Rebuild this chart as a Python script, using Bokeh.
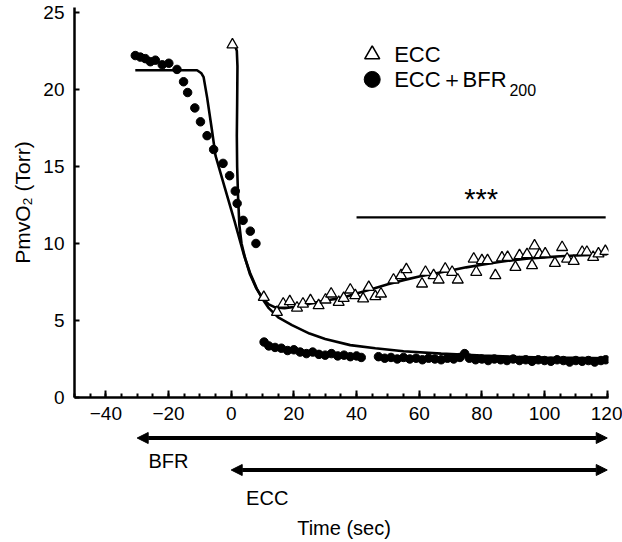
from bokeh.plotting import figure
from bokeh.layouts import column
from bokeh.models import Range1d, FixedTicker, Arrow, NormalHead
from bokeh.embed import file_html
from bokeh.resources import INLINE
from bokeh.core.properties import value

FONT = "Liberation Sans"

# ---------------- data ----------------
# ECC + BFR200 (filled circles), time in s, PmvO2 in Torr
bfr_pre_t = [-30.6, -29.0, -27.4, -25.8, -24.2, -22.0, -19.9, -17.3, -15.2, -13.9, -11.6,
             -9.8, -7.7, -5.6, -2.6, -0.5, 1.3, 1.9, 3.8, 6.1, 7.9]
bfr_pre_v = [22.2, 22.1, 22.0, 21.8, 21.9, 21.6, 21.7, 21.3, 20.5, 19.8, 18.8,
             17.9, 17.0, 16.1, 15.2, 14.4, 13.4, 12.6, 11.5, 10.8, 10.0]
bfr_ex_t = [10.5, 12, 14, 16, 18, 20, 22, 24, 26, 28, 30, 32, 34, 36, 38, 40, 41.5,
            47, 49, 51, 53, 55, 57, 59, 61, 63, 65, 67, 69, 71, 73, 74.5, 76, 78, 80,
            82, 84, 86, 88, 90, 92, 94, 96, 98, 100, 102, 104, 106, 108, 110, 112,
            114, 116, 118, 119.5]
bfr_ex_v = [3.6, 3.35, 3.25, 3.2, 3.05, 3.1, 2.95, 2.85, 2.95, 2.8, 2.75, 2.85, 2.7,
            2.75, 2.65, 2.7, 2.6, 2.65, 2.55, 2.6, 2.5, 2.6, 2.5, 2.55, 2.45, 2.55, 2.5,
            2.45, 2.55, 2.5, 2.6, 2.85, 2.55, 2.45, 2.5, 2.4, 2.5, 2.45, 2.4, 2.5, 2.4,
            2.45, 2.35, 2.45, 2.4, 2.35, 2.45, 2.4, 2.3, 2.4, 2.35, 2.4, 2.3, 2.4, 2.45]

# ECC (open triangles)
ecc_t = [0.4, 10.4, 14.6, 16.6, 18.7, 21.0, 22.9, 25.3, 27.9, 30.1, 31.9, 34.3, 35.9,
         38.0, 39.6, 42.1, 43.9, 46.0, 47.8, 51.8, 54.2, 55.9, 60.9, 62.0, 64.6, 66.2,
         68.3, 70.5, 72.3, 77.4, 78.2, 80.0, 81.8, 84.3, 86.4, 88.2, 90.7, 92.0, 94.4,
         96.0, 96.8, 98.4, 100.2, 103.3, 105.6, 107.2, 109.3, 112.0, 113.5, 115.5,
         117.2, 119.4]
ecc_v = [22.9, 6.51, 5.54, 6.08, 6.23, 5.82, 6.08, 6.30, 5.97, 6.34, 6.73, 6.19, 6.45,
         6.99, 6.62, 6.41, 7.16, 6.56, 6.73, 7.64, 7.92, 8.31, 7.38, 8.14, 7.92, 7.64,
         8.35, 8.14, 7.64, 9.0, 8.14, 8.9, 8.9, 7.92, 9.07, 9.11, 8.46, 9.22, 9.29,
         8.57, 9.85, 9.29, 9.33, 8.72, 9.75, 9.0, 8.85, 9.44, 9.44, 9.11, 9.33, 9.5]

# fitted curves
ecc_fit_t = [0.4, 1.2, 1.8, 2.0, 1.9, 1.8, 1.9, 2.2, 2.6, 3.3, 4.5, 6.0, 8.0, 10.0, 12.0,
             14.0, 17.0, 20.0, 25.0, 30.0, 35.0, 40.0, 45.0, 50.0, 55.0, 60.0, 65.0, 70.0,
             75.0, 80.0, 85.0, 90.0, 95.0, 100.0, 105.0, 110.0, 115.0, 120.0]
ecc_fit_v = [22.9, 22.85, 22.5, 21.5, 19.0, 17.0, 15.0, 13.0, 11.2, 10.0, 9.0, 8.0, 7.1,
             6.45, 6.05, 5.85, 5.8, 5.88, 6.08, 6.3, 6.45, 6.75, 7.05, 7.35, 7.62, 7.85,
             8.05, 8.25, 8.45, 8.62, 8.78, 8.92, 9.03, 9.1, 9.17, 9.22, 9.26, 9.3]
bfr_fit_t = [-30.6, -25.0, -20.0, -15.0, -10.9, -9.5, -8.8, -7.7, -6.1, -5.0, -2.0, 1.0,
             4.0, 6.0, 8.3, 10.0, 12.0, 15.0, 19.4, 25.0, 30.0, 38.0, 46.0, 55.0, 67.0,
             80.0, 90.0, 100.0, 110.0, 120.0]
bfr_fit_v = [21.25, 21.25, 21.25, 21.25, 21.25, 21.05, 20.8, 19.5, 17.3, 15.7, 13.6, 11.5,
             9.3, 8.1, 7.0, 6.4, 5.8, 5.2, 4.7, 4.15, 3.8, 3.4, 3.2, 3.0, 2.85, 2.72, 2.65,
             2.6, 2.57, 2.55]

# significance bar
sig_start, sig_end, sig_level = 40, 119.5, 11.7

# protocol bars (BFR and ECC periods)
bfr_period = (-30, 120)
ecc_period = (0, 120)

x_ticks = [-40, -20, 0, 20, 40, 60, 80, 100, 120]
x_minor = [-50, -45, -40, -35, -30, -25, -20, -15, -10, -5, 0, 5, 10, 15, 20, 25, 30, 35,
           40, 45, 50, 55, 60, 65, 70, 75, 80, 85, 90, 95, 100, 105, 110, 115, 120]
y_ticks = [0, 5, 10, 15, 20, 25]

# ---------------- main plot ----------------
x_range = Range1d(-50, 120.4)
pA = figure(width=622, height=430, x_range=x_range, y_range=Range1d(0, 25.32),
            output_backend="svg", toolbar_location=None,
            min_border_left=74, min_border_right=14, min_border_top=7, min_border_bottom=33)
pA.outline_line_color = None
pA.grid.visible = False
pA.background_fill_color = "white"

xa = pA.xaxis[0]
xa.ticker = FixedTicker(ticks=x_ticks, minor_ticks=x_minor)
xa.major_label_overrides = {-40: "\u221240", -20: "\u221220"}
xa.major_tick_in = 7
xa.major_tick_out = 0
xa.minor_tick_in = 4
xa.minor_tick_out = 0
xa.axis_line_width = 2.5
xa.major_tick_line_width = 2
xa.minor_tick_line_width = 2
xa.major_label_standoff = 9
xa.major_label_text_font = FONT
xa.major_label_text_font_size = "19px"
xa.major_label_text_color = "black"

ya = pA.yaxis[0]
ya.ticker = FixedTicker(ticks=y_ticks)
ya.major_tick_in = 5
ya.major_tick_out = 0
ya.minor_tick_line_color = None
ya.axis_line_width = 2.5
ya.major_tick_line_width = 2
ya.major_label_standoff = 10
ya.major_label_text_font = FONT
ya.major_label_text_font_size = "19px"
ya.major_label_text_color = "black"
ya.axis_label = "PmvO\u2082 (Torr)"
ya.axis_label_text_font = FONT
ya.axis_label_text_font_size = "21px"
ya.axis_label_text_font_style = "normal"
ya.axis_label_text_color = "black"
ya.axis_label_standoff = 6

pA.line(bfr_fit_t, bfr_fit_v, line_width=2.6, line_color="black")
pA.line(ecc_fit_t, ecc_fit_v, line_width=2.6, line_color="black")
pA.scatter(bfr_pre_t, bfr_pre_v, marker="circle", size=8.5, color="black")
pA.scatter(bfr_ex_t, bfr_ex_v, marker="circle", size=8.5, color="black")
pA.scatter(ecc_t, ecc_v, marker="triangle", size=11, fill_color="white",
           line_color="black", line_width=1.3)

pA.segment(x0=[sig_start], y0=[sig_level], x1=[sig_end], y1=[sig_level],
           line_width=2.2, line_color="black")
pA.text(x=[(sig_start + sig_end) / 2], y=[sig_level + 1.2], text=["***"],
        text_align="center", text_baseline="middle", text_font=value(FONT),
        text_font_size="29px", text_color="black")

# legend (manual, to allow a real subscript)
leg_x, leg_y1, leg_y2 = 45.0, 22.27, 20.65
pA.scatter([leg_x], [leg_y1], marker="triangle", size=15, fill_color="white",
           line_color="black", line_width=1.6)
pA.scatter([leg_x], [leg_y2], marker="circle", size=16, color="black")
pA.text(x=[52.0], y=[leg_y1], text=["ECC"], text_baseline="middle",
        text_font=value(FONT), text_font_size="22px", text_color="black")
pA.text(x=[52.0], y=[leg_y2], text=["ECC\uff0bBFR"], text_baseline="middle",
        text_font=value(FONT), text_font_size="22px", text_color="black")
pA.text(x=[88.8], y=[leg_y2 - 0.7], text=["200"], text_baseline="middle",
        text_font=value(FONT), text_font_size="16px", text_color="black")

# ---------------- protocol bars below ----------------
pB = figure(width=622, height=112, x_range=x_range, y_range=Range1d(112, 0),
            output_backend="svg", toolbar_location=None,
            x_axis_type=None, y_axis_type=None,
            min_border_left=74, min_border_right=14, min_border_top=0, min_border_bottom=0)
pB.outline_line_color = None
pB.grid.visible = False

for (s, e), yy in ((bfr_period, 7.5), (ecc_period, 39.5)):
    pB.add_layout(Arrow(x_start=s, y_start=yy, x_end=e, y_end=yy, line_width=4,
                        line_color="black",
                        start=NormalHead(size=11, fill_color="black", line_color="black"),
                        end=NormalHead(size=11, fill_color="black", line_color="black")))

pB.text(x=[-20.0, 11.5, 36.0], y=[30, 67, 97], text=["BFR", "ECC", "Time (sec)"],
        text_align="center", text_baseline="middle", text_font=value(FONT),
        text_font_size="20px", text_color="black")

layout = column(pA, pB, spacing=0)

open("out.html", "w").write(file_html(layout, INLINE))
